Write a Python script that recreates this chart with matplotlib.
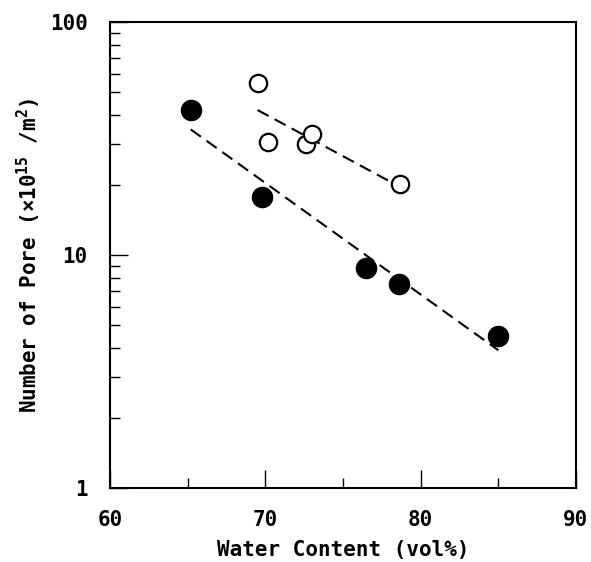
import numpy as np
import matplotlib.pyplot as plt
from matplotlib.ticker import FixedLocator, NullFormatter

# filled circles
filled_x = [65.2, 69.8, 76.5, 78.6, 85.0]
filled_y = [42.0, 17.7, 8.8, 7.5, 4.5]

# open circles
open_x = [69.5, 70.2, 72.6, 73.0, 78.7]
open_y = [54.5, 30.5, 29.8, 33.0, 20.1]

plt.rcParams['font.family'] = ['DejaVu Sans Mono', 'Noto Sans CJK JP']
plt.rcParams['font.weight'] = 'bold'
plt.rcParams['mathtext.default'] = 'regular'

fig = plt.figure(figsize=(5.91, 5.62), dpi=100)
ax = fig.add_axes([0.1861, 0.1317, 0.7885, 0.8292])

# exponential fits (straight on log axis)
def fit_line(x, y):
    x = np.array(x)
    k, b = np.polyfit(x, np.log10(y), 1)
    xs = np.array([x.min(), x.max()])
    return xs, 10 ** (k * xs + b)

fx, fy = fit_line(filled_x, filled_y)
ox, oy = fit_line(open_x, open_y)
l1, = ax.plot(fx, fy, color='black', lw=1.5)
l1.set_dashes((6, 3.3))
l2, = ax.plot(ox, oy, color='black', lw=1.5)
l2.set_dashes((6, 3.3))

ax.plot(filled_x, filled_y, 'o', color='black', ms=14.5, zorder=3)
ax.plot(open_x, open_y, 'o', mfc='white', mec='black', mew=1.6, ms=12.5, zorder=3)

ax.set_yscale('log')
ax.set_xlim(60, 90)
ax.set_ylim(1, 100)

ax.xaxis.set_major_locator(FixedLocator([60, 70, 80, 90]))
ax.xaxis.set_minor_locator(FixedLocator([65, 75, 85]))
ax.set_yticks([1, 10, 100])
ax.set_yticklabels(['1', '10', '100'])
ax.yaxis.set_minor_locator(FixedLocator(
    [v * d for d in (1, 10) for v in range(2, 10)]))
ax.yaxis.set_minor_formatter(NullFormatter())

ax.tick_params(which='major', direction='in', length=13, width=1,
               labelsize=15)
ax.tick_params(which='minor', direction='in', length=7, width=1)
ax.tick_params(axis='x', which='major', pad=16)
ax.tick_params(axis='y', which='major', pad=16)

for s in ax.spines.values():
    s.set_linewidth(1.5)

ax.set_xlabel('Water Content (vol%)', fontsize=15, fontweight='bold', labelpad=7)
ax.set_ylabel(r'Number of Pore (×10$^{15}$ /m$^{2}$)', fontsize=15,
              fontweight='bold', labelpad=5)

fig.savefig('out.png', dpi=100)
